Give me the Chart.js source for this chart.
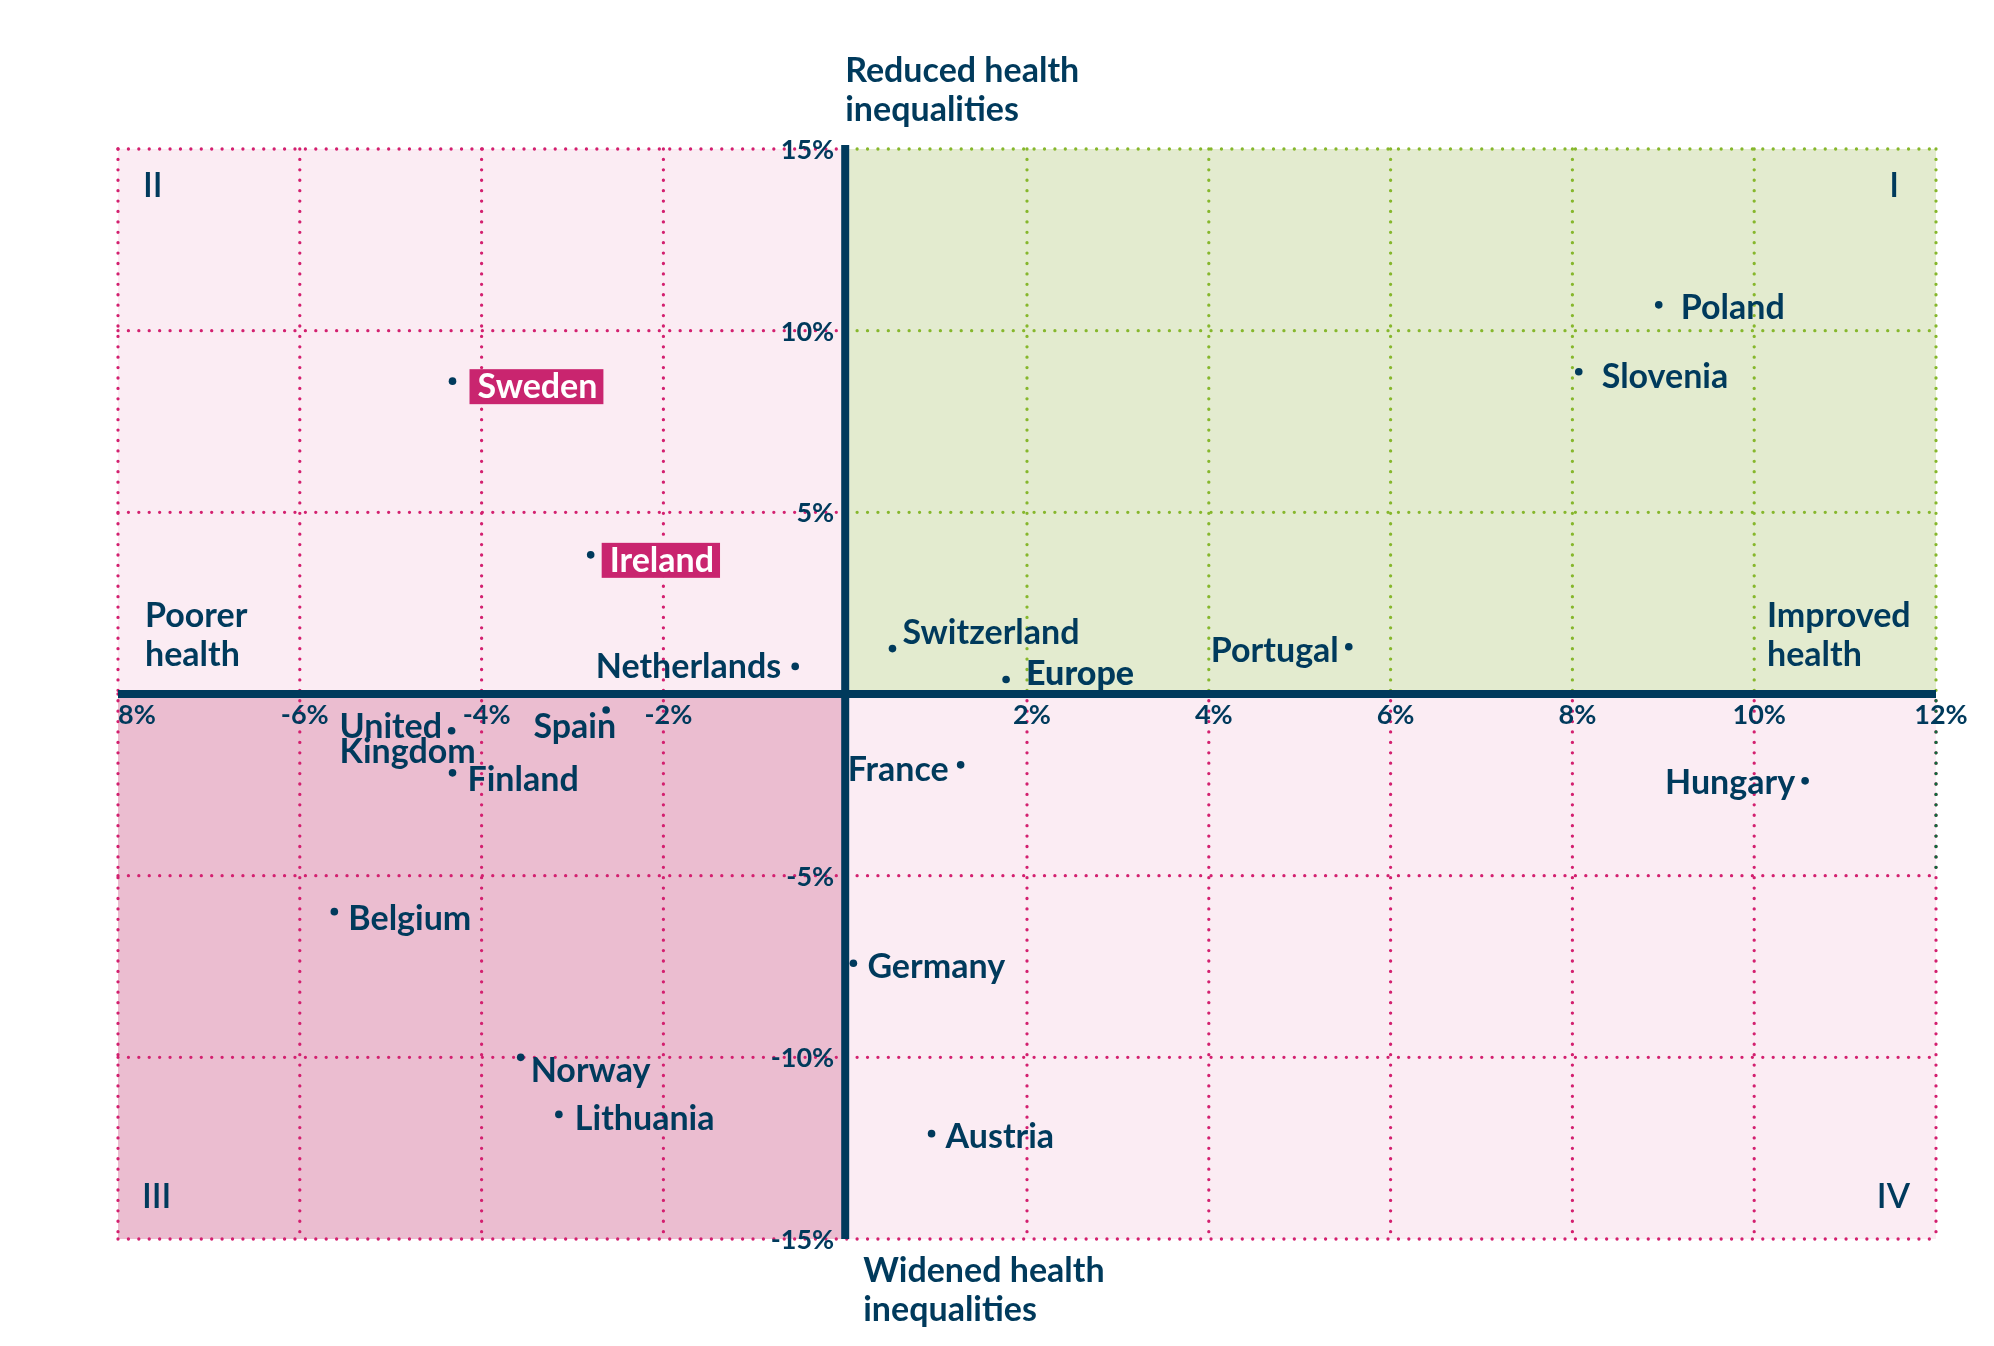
<!DOCTYPE html>
<html><head><meta charset="utf-8">
<script src="https://cdn.jsdelivr.net/npm/chart.js@4.4.1/dist/chart.umd.min.js"></script>
<style>html,body{margin:0;padding:0;background:#fff}canvas{display:block}</style>
</head><body>
<canvas id="c" width="1994" height="1346" style="width:1994px;height:1346px"></canvas>
<script>
// ---- data ----
const countries = ['Poland','Slovenia','Sweden','Ireland','Netherlands','Spain','United Kingdom','Finland','Belgium','Norway','Lithuania','Switzerland','Europe','Portugal','France','Hungary','Germany','Austria'];
const healthChange = [8.95, 8.07, -4.32, -2.80, -0.55, -2.63, -4.33, -4.32, -5.62, -3.57, -3.15, 0.52, 1.77, 5.54, 1.27, 10.56, 0.09, 0.95];
const inequalityChange = [10.71, 8.87, 8.61, 3.83, 0.76, -0.44, -1.01, -2.17, -5.99, -10.0, -11.57, 1.25, 0.40, 1.30, -1.95, -2.39, -7.41, -12.1];
const xTickValues = [-8, -6, -4, -2, 0, 2, 4, 6, 8, 10, 12];
const yTickValues = [-15, -10, -5, 0, 5, 10, 15];
const highlighted = ['Sweden', 'Ireland'];
const quadrantNames = ['I', 'II', 'III', 'IV'];
const axisTexts = {
  top: ['Reduced health', 'inequalities'],
  bottom: ['Widened health', 'inequalities'],
  left: ['Poorer', 'health'],
  right: ['Improved', 'health']
};

// ---- styles ----
const NAVY = '#003a5c';
const FONT = 'Lato, "Noto Sans", sans-serif';
const C = {
  q1: '#e3ebcf', q2: '#fbecf3', q3: '#ebbdd0', q4: '#fbecf3',
  pinkGrid: '#d3206f', greenGrid: '#86b72c', darkGreen: '#0f6a3b',
  box: '#c9256f'
};
const labelPlacement = {
  'Poland': {align:'left', dx:22, dy:14},
  'Slovenia': {align:'left', dx:23, dy:16},
  'Sweden': {align:'left', dx:25, dy:17},
  'Ireland': {align:'left', dx:19, dy:17},
  'Netherlands': {align:'right', dx:-14, dy:12},
  'Spain': {align:'right', dx:10, dy:28},
  'United Kingdom': {align:'left', dx:-112, dy:7, lines:['United','Kingdom'], lh:25},
  'Finland': {align:'left', dx:15, dy:18},
  'Belgium': {align:'left', dx:14, dy:18},
  'Norway': {align:'left', dx:10, dy:25},
  'Lithuania': {align:'left', dx:16, dy:16},
  'Switzerland': {align:'left', dx:10, dy:-5},
  'Europe': {align:'left', dx:20, dy:6, weight:900},
  'Portugal': {align:'right', dx:-10, dy:15},
  'France': {align:'right', dx:-12, dy:16},
  'Hungary': {align:'right', dx:-10, dy:13},
  'Germany': {align:'left', dx:14, dy:15},
  'Austria': {align:'left', dx:14, dy:14}
};
const LABEL_SIZE = 34;
const TICK_SIZE = 27;

function dotted(ctx, color, x1, y1, x2, y2) {
  ctx.save();
  ctx.strokeStyle = color;
  ctx.lineWidth = 3.3;
  ctx.lineCap = 'round';
  ctx.setLineDash([0.01, 10.4]);
  ctx.beginPath(); ctx.moveTo(x1, y1); ctx.lineTo(x2, y2); ctx.stroke();
  ctx.restore();
}

const backgroundPlugin = {
  id: 'quadrants',
  beforeDatasetsDraw(chart) {
    const {ctx, chartArea: a, scales: {x, y}} = chart;
    const x0 = x.getPixelForValue(0), y0 = y.getPixelForValue(0);
    const quads = [
      {r:[x0, a.top, a.right, y0], fill:C.q1, grid:C.greenGrid},
      {r:[a.left, a.top, x0, y0], fill:C.q2, grid:C.pinkGrid},
      {r:[a.left, y0, x0, a.bottom], fill:C.q3, grid:C.pinkGrid},
      {r:[x0, y0, a.right, a.bottom], fill:C.q4, grid:C.pinkGrid}
    ];
    quads.forEach(q => {
      const [l, t, r, b] = q.r;
      ctx.fillStyle = q.fill;
      ctx.fillRect(l, t, r - l, b - t);
    });
    quads.forEach(q => {
      let [l, t, r, b] = q.r;
      if (l === a.left) l -= 4;
      if (t === a.top) t -= 4;
      if (r === a.right) r += 4;
      if (b === a.bottom) b += 4;
      ctx.save();
      ctx.beginPath();
      ctx.rect(l, t, r - l, b - t);
      ctx.clip();
      xTickValues.forEach(v => { const px = x.getPixelForValue(v); dotted(ctx, q.grid, px, a.top, px, a.bottom); });
      yTickValues.forEach(v => { const py = y.getPixelForValue(v); dotted(ctx, q.grid, a.left, py, a.right, py); });
      ctx.restore();
    });
    // dark green segment on right edge
    ctx.save();
    const ym5 = y.getPixelForValue(-5);
    ctx.beginPath(); ctx.rect(a.right - 5, y0, 10, ym5 - y0 - 2); ctx.clip();
    dotted(ctx, C.darkGreen, a.right, a.top, a.right, a.bottom);
    ctx.restore();
    // axes
    ctx.save();
    ctx.fillStyle = NAVY;
    ctx.fillRect(a.left, y0 - 4, a.right - a.left, 8);
    ctx.fillRect(x0 - 4, a.top - 4, 8, a.bottom - a.top + 4);
    ctx.restore();
  }
};

const textPlugin = {
  id: 'texts',
  afterDatasetsDraw(chart) {
    const {ctx, chartArea: a, scales: {x, y}} = chart;
    const x0 = x.getPixelForValue(0), y0 = y.getPixelForValue(0);
    ctx.save();
    ctx.fillStyle = NAVY;
    ctx.textBaseline = 'alphabetic';
    // tick labels
    ctx.font = `700 ${TICK_SIZE}px ${FONT}`;
    ctx.textAlign = 'right';
    yTickValues.filter(v => v !== 0).forEach(v => {
      ctx.fillText(v + '%', x0 - 11, y.getPixelForValue(v) + 10);
    });
    ctx.save();
    ctx.beginPath(); ctx.rect(a.left, y0, a.right + 100 - a.left, 60); ctx.clip();
    xTickValues.filter(v => v !== 0).forEach((v, i) => {
      const px = x.getPixelForValue(v);
      if (i === 0) {
        ctx.textAlign = 'left';
        ctx.fillText(v + '%', px - ctx.measureText('-').width, y0 + 30);
      } else {
        ctx.textAlign = 'center';
        ctx.fillText(v + '%', px + 5, y0 + 30);
      }
    });
    ctx.restore();
    // quadrant labels
    ctx.font = `600 ${LABEL_SIZE}px ${FONT}`;
    ctx.textAlign = 'left';
    ctx.fillText(quadrantNames[1], a.left + 25, a.top + 48);
    ctx.fillText(quadrantNames[2], a.left + 24, a.bottom - 31);
    ctx.textAlign = 'right';
    ctx.fillText(quadrantNames[0], a.right - 37, a.top + 48);
    ctx.fillText(quadrantNames[3], a.right - 26, a.bottom - 31);
    // axis meaning labels
    ctx.font = `700 ${LABEL_SIZE}px ${FONT}`;
    ctx.textAlign = 'left';
    axisTexts.top.forEach((t, i) => ctx.fillText(t, x0, 82 + i * 38.5));
    axisTexts.bottom.forEach((t, i) => ctx.fillText(t, x0 + 18, a.bottom + 43 + i * 38.5));
    axisTexts.left.forEach((t, i) => ctx.fillText(t, a.left + 27, y0 - 67 + i * 38.5));
    axisTexts.right.forEach((t, i) => ctx.fillText(t, a.right - 169, y0 - 67 + i * 38.5));
    // point labels
    const meta = chart.getDatasetMeta(0);
    meta.data.forEach((pt, i) => {
      const name = countries[i];
      const p = labelPlacement[name];
      const lines = p.lines || [name];
      ctx.font = `${p.weight || 700} ${LABEL_SIZE}px ${FONT}`;
      ctx.textAlign = p.align;
      const tx = pt.x + p.dx, ty = pt.y + p.dy;
      if (highlighted.includes(name)) {
        const w = ctx.measureText(name).width;
        ctx.fillStyle = C.box;
        ctx.fillRect(tx - 8, ty - 29, w + 14, 35);
        ctx.fillStyle = '#ffffff';
        ctx.fillText(name, tx, ty);
        ctx.fillStyle = NAVY;
      } else {
        lines.forEach((l, k) => ctx.fillText(l, tx, ty + k * (p.lh || 0)));
      }
    });
    ctx.restore();
  }
};

new Chart(document.getElementById('c'), {
  type: 'scatter',
  data: {
    datasets: [{
      data: countries.map((c, i) => ({x: healthChange[i], y: inequalityChange[i]})),
      pointRadius: 3.8,
      pointBackgroundColor: NAVY,
      pointBorderWidth: 0
    }]
  },
  options: {
    responsive: false,
    devicePixelRatio: 1,
    animation: false,
    layout: {padding: {left: 118, right: 58, top: 149, bottom: 107}},
    plugins: {legend: {display: false}, tooltip: {enabled: false}},
    scales: {
      x: {type: 'linear', min: -8, max: 12, display: false},
      y: {type: 'linear', min: -15, max: 15, display: false}
    }
  },
  plugins: [backgroundPlugin, textPlugin]
});
</script>
</body></html>
